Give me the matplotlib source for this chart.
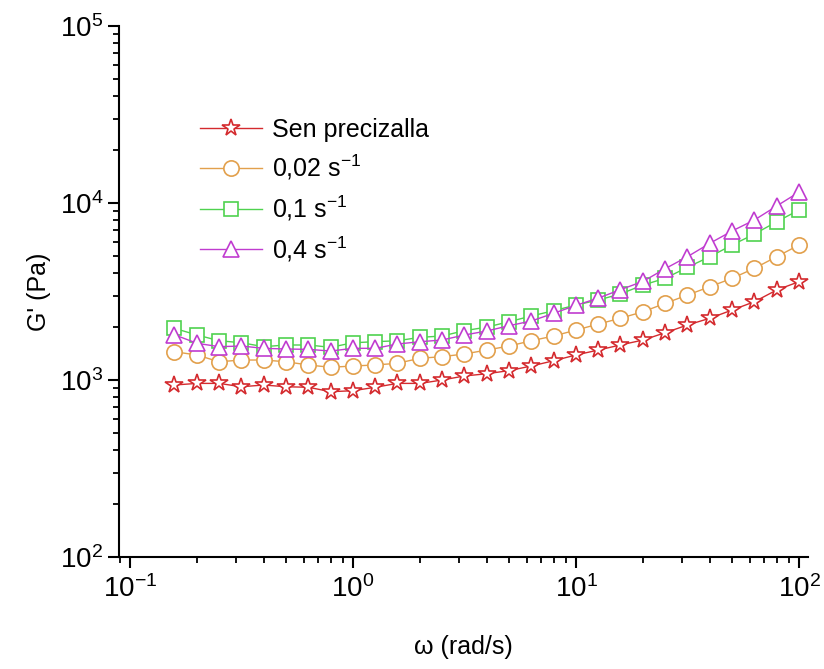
import matplotlib
matplotlib.use("Agg")
import matplotlib.pyplot as plt
from matplotlib.ticker import LogLocator, LogFormatterSciNotation, NullFormatter

plt.rcParams.update({
    "font.family": ["Liberation Sans", "DejaVu Sans"],
    "mathtext.fontset": "custom",
    "mathtext.rm": "Liberation Sans",
    "mathtext.it": "Liberation Sans:italic",
    "mathtext.bf": "Liberation Sans:bold",
    "font.size": 16,
})

# angular frequency (rad/s)
omega = [0.158, 0.2, 0.251, 0.316, 0.398, 0.501, 0.631, 0.794, 1.0, 1.26,
         1.58, 2.0, 2.51, 3.16, 3.98, 5.01, 6.31, 7.94, 10.0, 12.6,
         15.8, 20.0, 25.1, 31.6, 39.8, 50.1, 63.1, 79.4, 100.0]

# storage modulus G' (Pa)
g_sen = [937, 957, 957, 916, 937, 916, 910, 859, 870, 910,
         957, 957, 1000, 1054, 1085, 1130, 1200, 1285, 1385, 1477,
         1577, 1683, 1850, 2045, 2233, 2485, 2770, 3225, 3595]
g_002 = [1445, 1384, 1268, 1297, 1297, 1268, 1216, 1180, 1200, 1216,
         1243, 1327, 1355, 1403, 1477, 1556, 1667, 1773, 1915, 2071,
         2233, 2432, 2711, 3020, 3366, 3755, 4278, 4975, 5790]
g_01 = [1959, 1796, 1667, 1624, 1543, 1577, 1577, 1530, 1624, 1646,
        1667, 1742, 1773, 1900, 1990, 2135, 2300, 2464, 2653, 2832,
        3062, 3441, 3755, 4333, 4975, 5790, 6680, 7840, 9130]
g_04 = [1803, 1612, 1543, 1556, 1510, 1497, 1490, 1458, 1510, 1510,
        1597, 1646, 1683, 1796, 1892, 2027, 2155, 2382, 2642, 2904,
        3237, 3610, 4255, 4975, 5920, 6950, 8020, 9620, 11530]

labels = ["Sen precizalla", "0,02 s$^{-1}$", "0,1 s$^{-1}$", "0,4 s$^{-1}$"]
series = [g_sen, g_002, g_01, g_04]
markers = ["*", "o", "s", "^"]
sizes = [13, 11, 10, 12]
colors = ["#D42A2E", "#E2A04C", "#4FD24F", "#C03CD0"]

fig = plt.figure(figsize=(8.24, 6.69), dpi=100)
ax = fig.add_axes([0.1444, 0.1674, 0.8362, 0.7937])

for y, lab, m, ms, c in zip(series, labels, markers, sizes, colors):
    ax.plot(omega, y, "-", marker=m, ms=ms, color=c, lw=1.0,
            mfc="white", mec=c, mew=1.2, label=lab)

ax.set_xscale("log")
ax.set_yscale("log")
ax.set_xlim(0.0893, 109.7)
ax.set_ylim(1e2, 1e5)

for sp in ("top", "right"):
    ax.spines[sp].set_visible(False)
for sp in ("left", "bottom"):
    ax.spines[sp].set_linewidth(1.5)

for axis in (ax.xaxis, ax.yaxis):
    axis.set_major_locator(LogLocator(base=10, numticks=10))
    axis.set_minor_locator(LogLocator(base=10, subs=range(2, 10), numticks=20))
    axis.set_major_formatter(LogFormatterSciNotation())
    axis.set_minor_formatter(NullFormatter())
ax.tick_params(which="major", direction="out", length=8, width=1.5, labelsize=20)
ax.tick_params(which="minor", direction="out", length=4.5, width=1.3)
ax.tick_params(axis="x", which="major", pad=5)

ax.set_xlabel("ω (rad/s)", fontsize=18, labelpad=23)
ax.set_ylabel("G' (Pa)", fontsize=18, labelpad=6)

ax.legend(loc="upper left", bbox_to_anchor=(0.103, 0.846), frameon=False,
          fontsize=18, handlelength=2.5, handletextpad=0.4, labelspacing=0.45,
          borderaxespad=0)

fig.savefig("out.png", dpi=100, facecolor="white")
